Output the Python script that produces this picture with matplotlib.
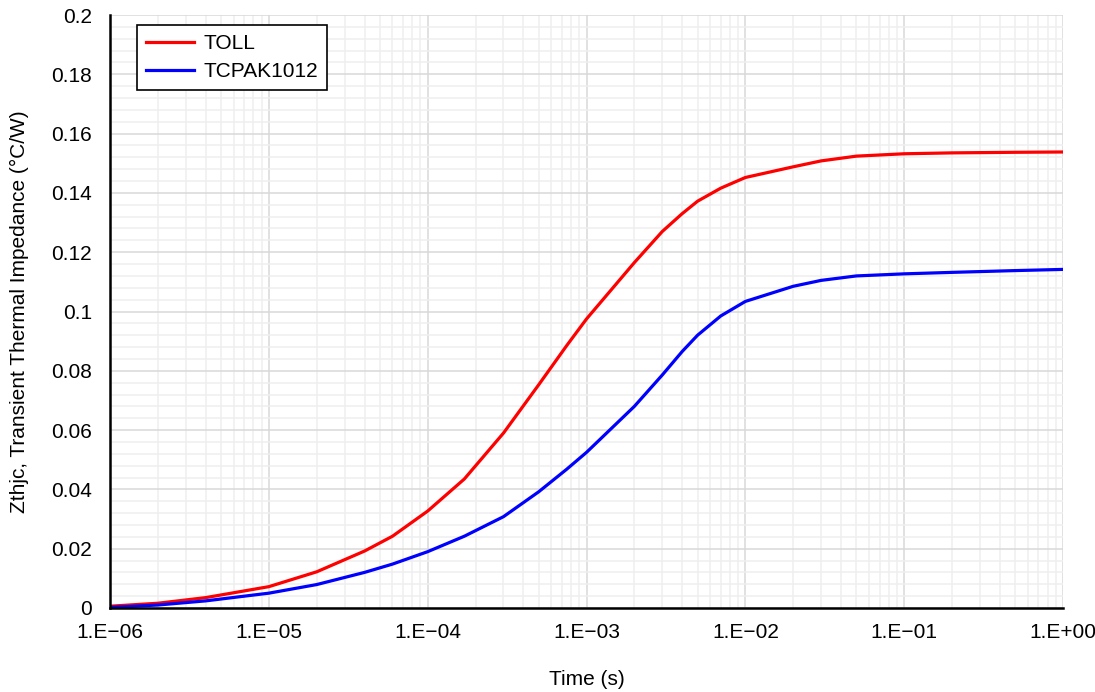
import numpy as np
import matplotlib
matplotlib.use("Agg")
import matplotlib.pyplot as plt
from matplotlib.ticker import LogLocator, MultipleLocator, FixedLocator, FuncFormatter

plt.rcParams['font.family'] = ['Liberation Sans', 'DejaVu Sans']

# time points (s)
time_s = [1e-6, 2e-6, 4e-6, 1e-5, 2e-5, 4e-5, 6e-5, 1e-4, 1.7e-4, 3e-4,
          5e-4, 7.5e-4, 1e-3, 2e-3, 3e-3, 4e-3, 5e-3, 7e-3, 1e-2, 2e-2,
          3e-2, 5e-2, 1e-1, 2e-1, 5e-1, 1e0]

# Zthjc (degC/W)
toll = [0.0006, 0.0016, 0.0035, 0.0072, 0.0122, 0.0192, 0.0242, 0.0327, 0.0435, 0.0590,
        0.0753, 0.0885, 0.0975, 0.1165, 0.1270, 0.1330, 0.1372, 0.1416, 0.1452, 0.1488,
        0.1508, 0.1524, 0.1532, 0.1535, 0.1537, 0.1538]
tcpak1012 = [0.0002, 0.0010, 0.0024, 0.0050, 0.0079, 0.0120, 0.0148, 0.0190, 0.0242, 0.0308,
             0.0392, 0.0468, 0.0525, 0.0680, 0.0786, 0.0865, 0.0920, 0.0985, 0.1034, 0.1085,
             0.1105, 0.1120, 0.1127, 0.1132, 0.1138, 0.1142]

xticks = [1e-6, 1e-5, 1e-4, 1e-3, 1e-2, 1e-1, 1e0]
xtick_labels = ["1.E\u221206", "1.E\u221205", "1.E\u221204", "1.E\u221203",
                "1.E\u221202", "1.E\u221201", "1.E+00"]

fs = 15

fig = plt.figure(figsize=(10.95, 6.92), dpi=100)
ax = fig.add_axes([0.1005, 0.1214, 0.8703, 0.8569])

ax.plot(time_s, toll, color='#ff0000', lw=2.3, label='TOLL', zorder=3)
ax.plot(time_s, tcpak1012, color='#0000ff', lw=2.3, label='TCPAK1012', zorder=3)

ax.set_xscale('log')
ax.set_xlim(1e-6, 1e0)
ax.set_ylim(0, 0.2)

ax.xaxis.set_major_locator(FixedLocator(xticks))
ax.set_xticklabels(xtick_labels)
ax.xaxis.set_minor_locator(LogLocator(base=10, subs=np.arange(2, 10), numticks=100))
ax.xaxis.set_minor_formatter(FuncFormatter(lambda v, p: ""))

ax.yaxis.set_major_locator(MultipleLocator(0.02))
ax.yaxis.set_minor_locator(MultipleLocator(0.004))
ax.yaxis.set_major_formatter(FuncFormatter(lambda v, p: f"{v:g}"))

ax.grid(which='major', color='#d9d9d9', lw=1.1)
ax.grid(which='minor', color='#efefef', lw=1.1)
ax.set_axisbelow(True)

ax.tick_params(which='both', length=0, labelsize=fs, colors='black')
ax.tick_params(axis='x', pad=11)
ax.tick_params(axis='y', pad=13)

for s in ['top', 'right']:
    ax.spines[s].set_visible(False)
for s in ['left', 'bottom']:
    ax.spines[s].set_color('black')
    ax.spines[s].set_linewidth(1.8)
    ax.spines[s].set_zorder(4)

ax.set_xlabel('Time (s)', fontsize=fs, labelpad=20)
ax.set_ylabel('Zthjc, Transient Thermal Impedance (\u00b0C/W)', fontsize=fs, labelpad=16)

leg = ax.legend(loc='upper left', bbox_to_anchor=(0.028, 0.983), borderaxespad=0,
                fontsize=fs, frameon=True, fancybox=False, edgecolor='black',
                handlelength=2.3, borderpad=0.45, labelspacing=0.4, handletextpad=0.45)
leg.get_frame().set_linewidth(1.2)
leg.get_frame().set_alpha(1)

fig.savefig('out.png', dpi=100)
